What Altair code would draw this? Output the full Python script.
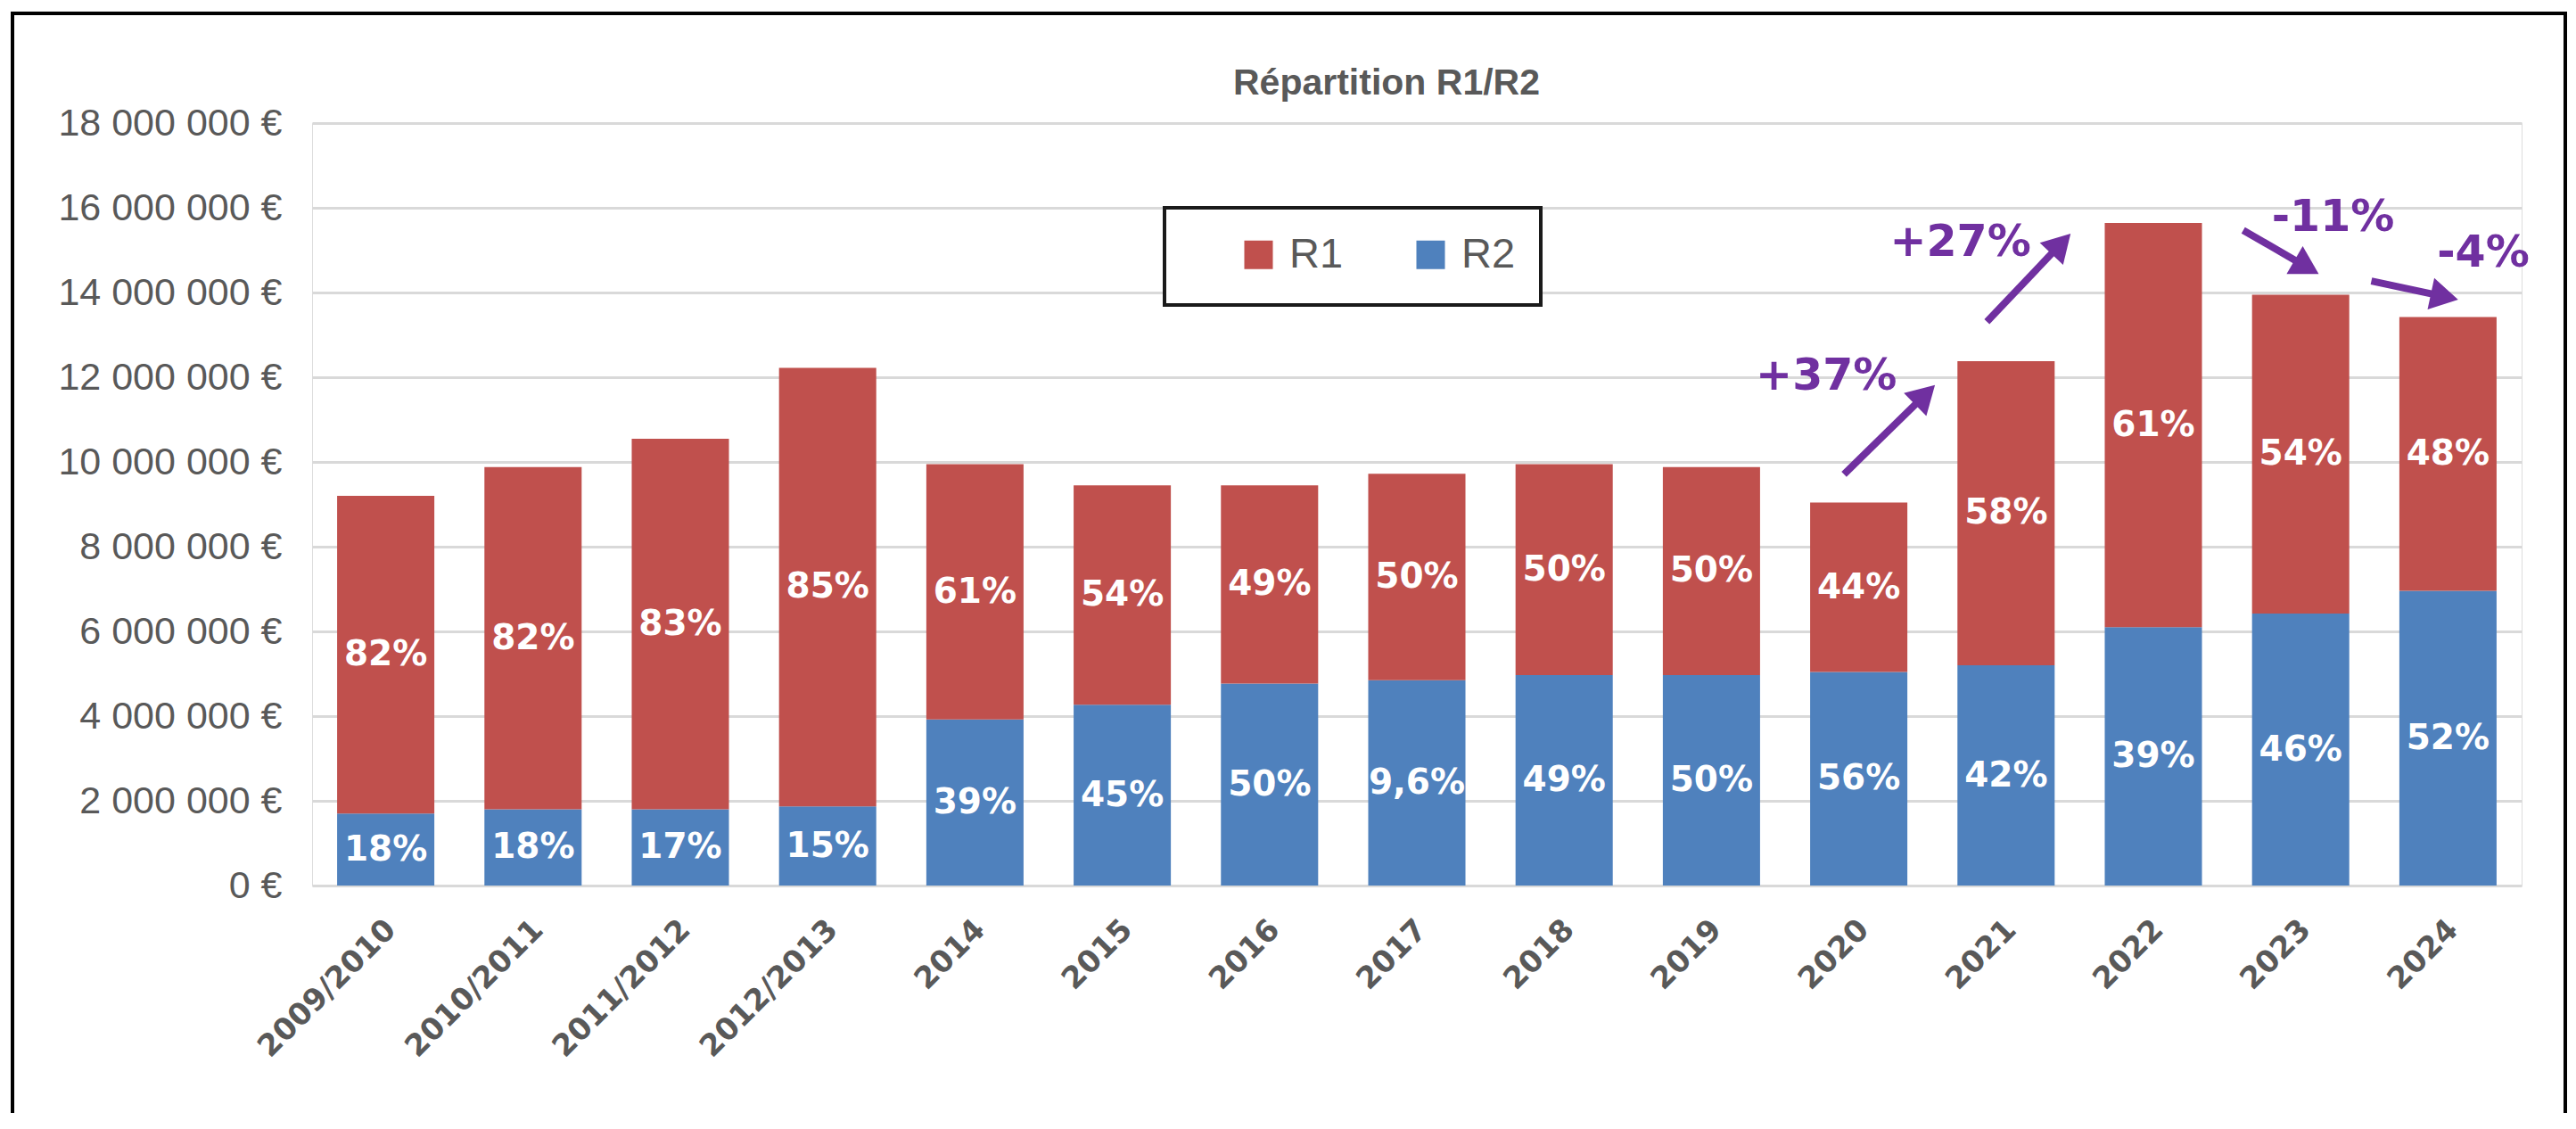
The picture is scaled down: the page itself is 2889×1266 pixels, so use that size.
import math
import altair as alt
import pandas as pd

# ---------------- data ----------------
categories = ["2009/2010", "2010/2011", "2011/2012", "2012/2013", "2014", "2015", "2016",
              "2017", "2018", "2019", "2020", "2021", "2022", "2023", "2024"]
r2_values = [1.70e6, 1.80e6, 1.80e6, 1.87e6, 3.92e6, 4.27e6, 4.77e6, 4.85e6,
             4.97e6, 4.97e6, 5.04e6, 5.20e6, 6.10e6, 6.42e6, 6.96e6]
r1_values = [7.50e6, 8.08e6, 8.75e6, 10.35e6, 6.03e6, 5.18e6, 4.68e6, 4.87e6,
             4.98e6, 4.91e6, 4.00e6, 7.18e6, 9.54e6, 7.53e6, 6.46e6]
r1_labels = ["82%", "82%", "83%", "85%", "61%", "54%", "49%", "50%",
             "50%", "50%", "44%", "58%", "61%", "54%", "48%"]
r2_labels = ["18%", "18%", "17%", "15%", "39%", "45%", "50%", "9,6%",
             "49%", "50%", "56%", "42%", "39%", "46%", "52%"]
series_names = ["R1", "R2"]
series_colors = ["#C0504D", "#4F81BD"]
y_ticks = [0, 2000000, 4000000, 6000000, 8000000, 10000000, 12000000,
           14000000, 16000000, 18000000]
title_text = "Répartition R1/R2"

# annotations (x in category units: band i spans [i, i+1]; y in euros)
ann_text = ["+37%", "+27%", "-11%", "-4%"]
ann_x = [10.28, 11.19, 13.72, 14.74]
ann_y = [12.02e6, 15.18e6, 15.77e6, 14.93e6]
arrow_tail_x = [10.40, 11.37, 13.11, 13.98]
arrow_tail_y = [9.71e6, 13.31e6, 15.47e6, 14.27e6]
arrow_tip_x = [11.04, 11.96, 13.65, 14.60]
arrow_tip_y = [11.89e6, 15.47e6, 14.38e6, 13.81e6]

# ---------------- layout ----------------
W, H = 2478, 855
YMAX = 18e6
PAD = {"left": 342, "top": 130, "right": 53, "bottom": 255}
GREY = "#595959"
PURPLE = "#7030A0"

# ---------------- tables ----------------
rows = []
for i, c in enumerate(categories):
    r2, r1 = r2_values[i], r1_values[i]
    rows.append({"cat": c, "series": "R2", "start": 0.0, "end": r2,
                 "mid": r2 / 2, "label": r2_labels[i], "ord": 0})
    rows.append({"cat": c, "series": "R1", "start": r2, "end": r2 + r1,
                 "mid": r2 + r1 / 2, "label": r1_labels[i], "ord": 1})
bars_df = pd.DataFrame(rows)

STEP = W / len(categories)
PPM = H / YMAX
HEAD_SIZE = 1300
r_head = math.sqrt(HEAD_SIZE) / 2
tip_dist = 2 * math.tan(math.radians(30)) * r_head
arr_rows = []
for tx, ty, hx, hy in zip(arrow_tail_x, arrow_tail_y, arrow_tip_x, arrow_tip_y):
    px0, py0 = tx * STEP, H - ty * PPM
    px1, py1 = hx * STEP, H - hy * PPM
    dx, dy = px1 - px0, py1 - py0
    L = math.hypot(dx, dy)
    ux, uy = dx / L, dy / L
    cx, cy = px1 - ux * tip_dist, py1 - uy * tip_dist
    ang = math.degrees(math.atan2(ux, -uy)) % 360
    arr_rows.append({"x0": tx, "y0": ty, "x1": cx / STEP, "y1": (H - cy) / PPM, "ang": ang})
arrows_df = pd.DataFrame(arr_rows)
ann_df = pd.DataFrame({"t": ann_text, "x": ann_x, "y": ann_y})
one = pd.DataFrame({"k": [0]})

yscale = alt.Scale(domain=[0, YMAX], nice=False, zero=True)
xband = alt.Scale(paddingInner=0.34, paddingOuter=0.17)
xlin = alt.Scale(domain=[0, len(categories)], nice=False, zero=False)

label_expr = "replace(format(datum.value, ','), regexp(',', 'g'), ' ') + ' €'"

frame = alt.Chart(one).mark_rect(fillOpacity=0, stroke="#000000", strokeWidth=4).encode(
    x=alt.value(-336), x2=alt.value(2527), y=alt.value(-123), y2=alt.value(1300))

legend_box = alt.Chart(one).mark_rect(fill="white", stroke="#1a1a1a", strokeWidth=4).encode(
    x=alt.value(956), x2=alt.value(1378), y=alt.value(95), y2=alt.value(204))

title = alt.Chart(one).mark_text(font="Liberation Sans", fontWeight="bold", fontSize=41,
                                 color=GREY, align="center", baseline="alphabetic").encode(
    x=alt.value(1205), y=alt.value(-32), text=alt.value(title_text))

bars = alt.Chart(bars_df).mark_bar().encode(
    x=alt.X("cat:N", sort=categories, scale=xband, title=None,
            axis=alt.Axis(labelAngle=-45, labelAlign="right", labelBaseline="middle",
                          labelFont="DejaVu Sans", labelFontWeight="bold", labelFontSize=34,
                          labelColor=GREY, labelPadding=44, labelOffset=6, labelLimit=0,
                          domain=False, ticks=False, grid=False)),
    y=alt.Y("start:Q", scale=yscale, title=None,
            axis=alt.Axis(values=y_ticks, labelExpr=label_expr,
                          labelFont="Liberation Sans", labelLimit=0,
                          labelFontSize=43, labelColor=GREY, labelPadding=34,
                          domain=False, ticks=False, grid=True, gridColor="#D9D9D9",
                          gridWidth=3)),
    y2="end:Q",
    color=alt.Color("series:N", scale=alt.Scale(domain=series_names, range=series_colors),
                    legend=alt.Legend(orient="none", legendX=1038, legendY=124,
                                      direction="horizontal", title=None,
                                      symbolType="square", symbolSize=1024,
                                      symbolStrokeWidth=0, symbolOpacity=1,
                                      labelFont="Liberation Sans", labelFontSize=47,
                                      labelColor=GREY, labelOffset=11,
                                      columnPadding=74, padding=0)),
    order=alt.Order("ord:Q"),
)

labels = alt.Chart(bars_df).mark_text(
    font="DejaVu Sans", fontWeight="bold", fontSize=39, color="white",
    align="center", baseline="middle").encode(
    x=alt.X("cat:N", sort=categories, scale=xband, axis=None),
    y=alt.Y("mid:Q", scale=yscale, title=None),
    text="label:N",
)

shafts = alt.Chart(arrows_df).mark_rule(color=PURPLE, strokeWidth=8, strokeCap="butt").encode(
    x=alt.X("x0:Q", scale=xlin, axis=None),
    x2="x1:Q",
    y=alt.Y("y0:Q", scale=yscale, title=None),
    y2="y1:Q",
)

heads = alt.Chart(arrows_df).mark_point(shape="triangle-up", filled=True, size=HEAD_SIZE,
                                         color=PURPLE, opacity=1, strokeWidth=0).encode(
    x=alt.X("x1:Q", scale=xlin, axis=None),
    y=alt.Y("y1:Q", scale=yscale, title=None),
    angle=alt.Angle("ang:Q", scale=None),
)

ann = alt.Chart(ann_df).mark_text(font="DejaVu Sans", fontWeight="bold", fontSize=49,
                                  color=PURPLE, align="center", baseline="middle").encode(
    x=alt.X("x:Q", scale=xlin, axis=None),
    y=alt.Y("y:Q", scale=yscale, title=None),
    text="t:N",
)

chart = alt.layer(frame, legend_box, title, bars, labels, shafts, heads, ann).resolve_scale(
    x="independent"
).properties(
    width=W, height=H, padding=PAD,
    autosize=alt.AutoSizeParams(type="none"),
).configure_view(stroke="transparent").configure(background="white")

chart.save("out.html", embed_options={"renderer": "svg", "actions": False})
